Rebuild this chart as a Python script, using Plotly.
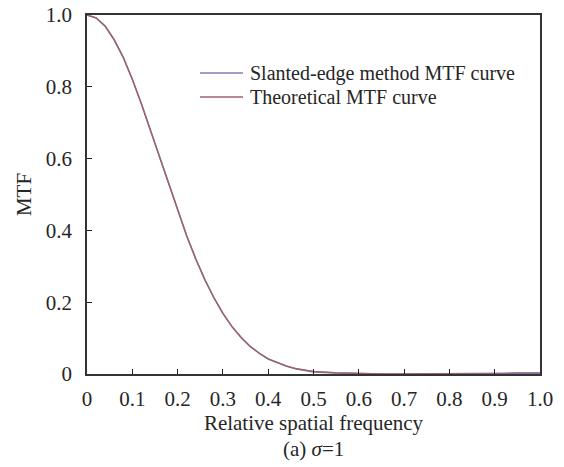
import plotly.graph_objects as go

freq = [0.0, 0.02, 0.04, 0.06, 0.08, 0.10, 0.12, 0.14, 0.16, 0.18, 0.20, 0.22, 0.24, 0.26,
        0.28, 0.30, 0.32, 0.34, 0.36, 0.38, 0.40, 0.42, 0.44, 0.46, 0.48, 0.50, 0.55, 0.60,
        0.65, 0.70, 0.75, 0.80, 0.85, 0.90, 0.92, 0.95, 0.98, 1.0]
mtf_slanted = [1.0, 0.992, 0.969, 0.931, 0.882, 0.821, 0.753, 0.679, 0.603, 0.527, 0.454, 0.385,
               0.321, 0.263, 0.213, 0.169, 0.132, 0.102, 0.077, 0.058, 0.042, 0.031, 0.022, 0.015,
               0.010, 0.006, 0.003, 0.001, 0.0, 0.0, 0.0, 0.0, 0.0, 0.001, 0.002, 0.003, 0.003, 0.003]
mtf_theory = [1.0, 0.992, 0.969, 0.931, 0.882, 0.821, 0.753, 0.679, 0.603, 0.527, 0.454, 0.385,
              0.321, 0.263, 0.213, 0.169, 0.132, 0.102, 0.077, 0.058, 0.042, 0.031, 0.022, 0.015,
              0.010, 0.007, 0.003, 0.001, 0.0, 0.0, 0.0, 0.0, 0.0, 0.0, 0.0, 0.0, 0.0, 0.0]

series_names = ["Slanted-edge method MTF curve", "Theoretical MTF curve"]
series_colors = ["#7c7fb0", "#a0606c"]

x_tickvals = [0, 0.1, 0.2, 0.3, 0.4, 0.5, 0.6, 0.7, 0.8, 0.9, 1.0]
x_ticktext = ["0", "0.1", "0.2", "0.3", "0.4", "0.5", "0.6", "0.7", "0.8", "0.9", "1.0"]
y_tickvals = [0, 0.2, 0.4, 0.6, 0.8, 1.0]
y_ticktext = ["0", "0.2", "0.4", "0.6", "0.8", "1.0"]

FONT = "Liberation Serif, Times New Roman, serif"
TXT = "#262626"
FS = 21

fig = go.Figure()
fig.add_trace(go.Scatter(x=freq, y=mtf_slanted, mode="lines", name=series_names[0],
                         showlegend=False, line=dict(color=series_colors[0], width=1.6)))
fig.add_trace(go.Scatter(x=freq, y=mtf_theory, mode="lines", name=series_names[1],
                         showlegend=False, line=dict(color=series_colors[1], width=1.3)))

fig.update_layout(
    width=564, height=467,
    margin=dict(l=87, r=24, t=15, b=93),
    paper_bgcolor="white", plot_bgcolor="white",
    font=dict(family=FONT, size=FS, color=TXT),
    showlegend=False,
    xaxis=dict(range=[0, 1.0], tickvals=x_tickvals, ticktext=x_ticktext,
               ticks="inside", ticklen=5, tickwidth=1.2, tickcolor="#222222",
               ticklabelstandoff=5, showgrid=False, automargin=False,
               tickfont=dict(family=FONT, size=FS, color=TXT),
               zeroline=False, showline=True, linecolor="#333333", linewidth=1.6,
               mirror=True,
               title=dict(text="Relative spatial frequency", standoff=5,
                          font=dict(family=FONT, size=FS, color=TXT))),
    yaxis=dict(range=[0, 1.0], tickvals=y_tickvals, ticktext=y_ticktext,
               ticks="inside", ticklen=5, tickwidth=1.2, tickcolor="#222222",
               ticklabelstandoff=9, showgrid=False, automargin=False,
               tickfont=dict(family=FONT, size=FS, color=TXT),
               zeroline=False, showline=True, linecolor="#333333", linewidth=1.6,
               mirror=True,
               title=dict(text="MTF", standoff=8,
                          font=dict(family=FONT, size=FS, color=TXT))),
)

# legend drawn inside the plot area (paper coordinates)
leg_x0, leg_x1, leg_tx = 0.2494, 0.3444, 0.357
leg_ys = [(374 - 73) / 359, (374 - 97) / 359]
for name, color, ly in zip(series_names, series_colors, leg_ys):
    fig.add_shape(type="line", xref="paper", yref="paper", x0=leg_x0, x1=leg_x1,
                  y0=ly, y1=ly, line=dict(color=color, width=1.6))
    fig.add_annotation(text=name, xref="paper", yref="paper", x=leg_tx, y=ly,
                       xanchor="left", yanchor="middle", showarrow=False, borderpad=0,
                       font=dict(family=FONT, size=20, color=TXT))

fig.add_annotation(text="(a) <i>σ</i>=1", xref="paper", yref="paper",
                   x=0.5, y=(374 - 449) / 359, xanchor="center", yanchor="middle",
                   showarrow=False, font=dict(family=FONT, size=FS, color=TXT))

fig.write_html("out.html")
